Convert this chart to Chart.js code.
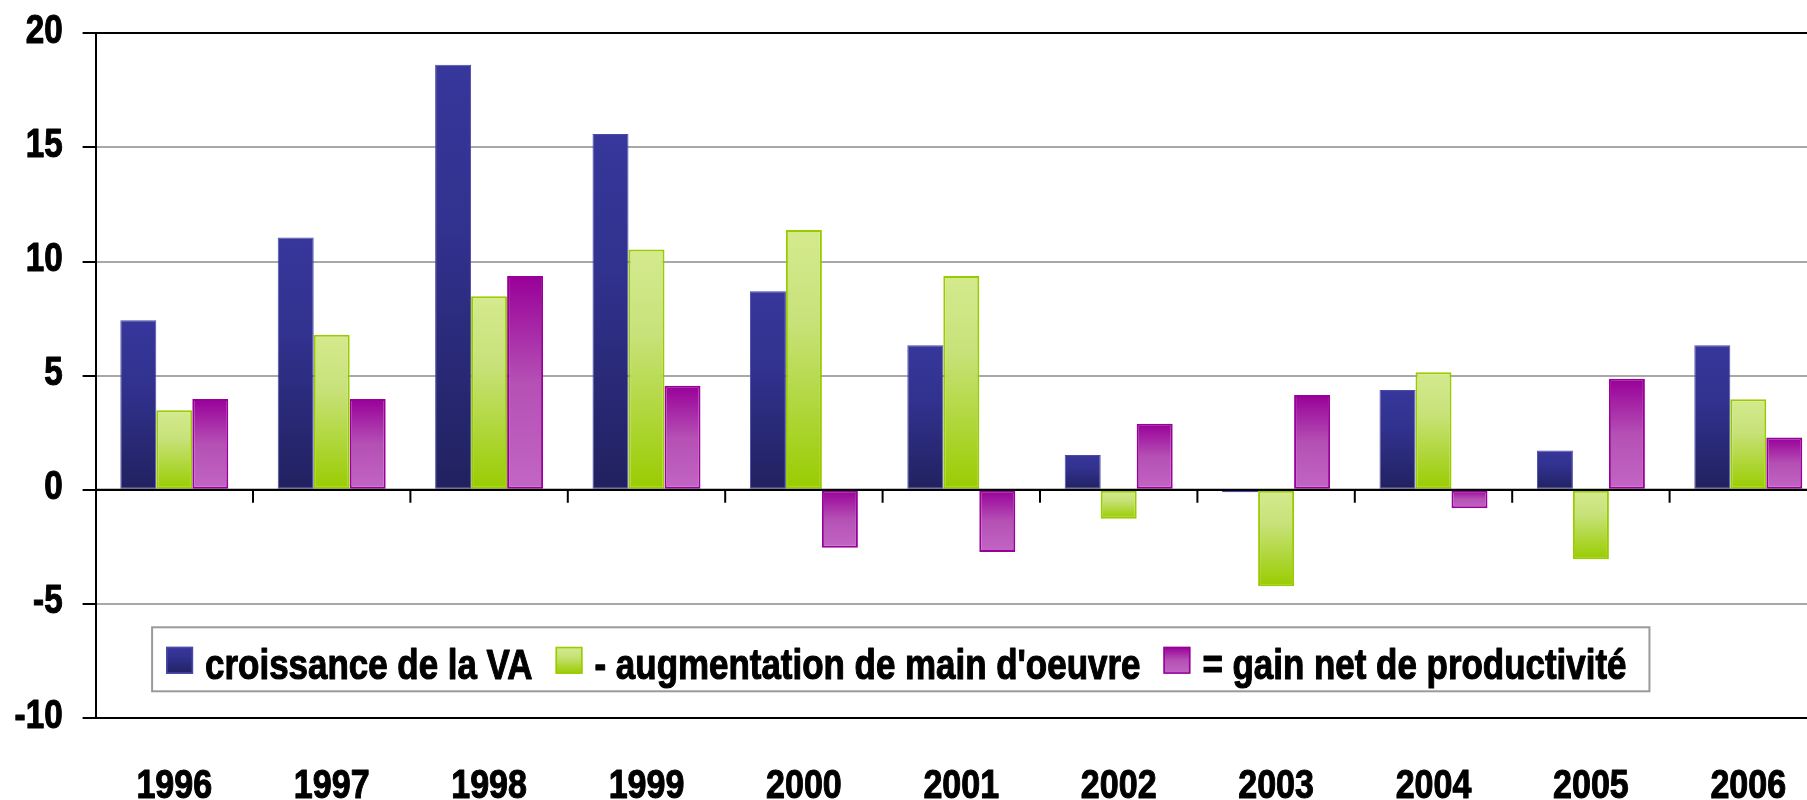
<!DOCTYPE html>
<html>
<head>
<meta charset="utf-8">
<script src="https://cdn.jsdelivr.net/npm/chart.js@4.4.1/dist/chart.umd.min.js"></script>
<style>
html,body{margin:0;padding:0;background:#fff;overflow:hidden}
#wrap{width:1807px;height:800px;overflow:hidden;position:relative;background:#fff}
canvas{display:block}
</style>
</head>
<body>
<div id="wrap"><canvas id="c" width="1828" height="800" style="width:1828px;height:800px"></canvas></div>
<script>
// ---- data ----
const years = ['1996','1997','1998','1999','2000','2001','2002','2003','2004','2005','2006'];
const seriesNames = ['croissance de la VA', "- augmentation de main d'oeuvre", '= gain net de productivité'];
const croissanceVA   = [7.43, 11.05, 18.62, 15.59, 8.70, 6.33, 1.52, -0.11, 4.37, 1.72, 6.33];
const augmentationMO = [3.48, 6.79, 8.48, 10.53, 11.38, 9.37, -1.27, -4.23, 5.15, -3.05, 3.96];
const gainNet        = [3.98, 3.98, 9.36, 4.56, -2.54, -2.73, 2.89, 4.15, -0.81, 4.86, 2.29];
const yMin = -10, yMax = 20, yStep = 5;

// ---- styles ----
const FAMILY = "'Liberation Sans', Arial, sans-serif";
const NARROW = 0.82; // Arial Narrow is Arial compressed horizontally
const blueStops  = [[0,'#37379c'],[0.4,'#31318e'],[1,'#212160']];
const greenStops = [[0,'#d4ea8e'],[0.35,'#c8e27a'],[1,'#99cc00']];
const pinkStops  = [[0,'#980098'],[0.5,'#b550b5'],[1,'#c266c4']];
const borders = ['#4a4aa8', '#99cc00', '#990099'];
const borderWidths = [1, 2, 2];
const allStops = [blueStops, greenStops, pinkStops];
const seriesData = [croissanceVA, augmentationMO, gainNet];

// narrow, heavy text: compress every text draw horizontally around its anchor
const canvas = document.getElementById('c');
const c2d = canvas.getContext('2d');
const origFillText = c2d.fillText.bind(c2d);
const origStrokeText = c2d.strokeText.bind(c2d);
c2d.fillText = function(text, x, y, maxWidth){
  this.save();
  this.translate(x, y);
  this.scale(NARROW, 1);
  const mw = maxWidth !== undefined ? maxWidth / NARROW : undefined;
  if (mw !== undefined) origFillText(text, 0, 0, mw); else origFillText(text, 0, 0);
  this.strokeStyle = this.fillStyle;
  this.lineWidth = 1.1;
  this.lineJoin = 'round';
  if (mw !== undefined) origStrokeText(text, 0, 0, mw); else origStrokeText(text, 0, 0);
  this.restore();
};

function makeGrad(c, y0, y1, stops){
  const g = c.createLinearGradient(0, y0, 0, y1 === y0 ? y0 + 1 : y1);
  stops.forEach(([o, col]) => g.addColorStop(o, col));
  return g;
}
function barGradient(stops){
  return (ctx) => {
    const chart = ctx.chart;
    if (!chart.chartArea || ctx.type !== 'data') return stops[0][1];
    const y = chart.scales.y;
    const v = ctx.raw;
    const top = y.getPixelForValue(Math.max(v, 0));
    const bot = y.getPixelForValue(Math.min(v, 0));
    return makeGrad(chart.ctx, top, bot, stops);
  };
}

const zeroTicks = {
  id: 'zeroTicks',
  afterDatasetsDraw(chart){
    const {ctx, chartArea, scales:{x, y}} = chart;
    const y0 = y.getPixelForValue(0);
    ctx.save();
    ctx.strokeStyle = '#000';
    ctx.lineWidth = 2;
    ctx.beginPath();
    ctx.moveTo(chartArea.left, y0);
    ctx.lineTo(chartArea.right, y0);
    ctx.stroke();
    const half = (x.getPixelForValue(1) - x.getPixelForValue(0)) / 2;
    ctx.beginPath();
    for (let i = 0; i < years.length; i++){
      const px = x.getPixelForValue(i) + half;
      ctx.moveTo(px, y0);
      ctx.lineTo(px, y0 + 13);
    }
    ctx.stroke();
    ctx.restore();
  }
};

const insideLegend = {
  id: 'insideLegend',
  afterDraw(chart){
    const {ctx, chartArea} = chart;
    ctx.save();
    ctx.font = 'bold 42.6px ' + FAMILY;
    const left = chartArea.left + 56.5;
    const top = chartArea.bottom - 90.6;
    const h = 64;
    const widths = seriesNames.map(s => ctx.measureText(s).width * NARROW);
    let total = 14;
    widths.forEach((w) => { total += 27 + 12 + w + 23; });
    ctx.fillStyle = '#fff';
    ctx.fillRect(left, top, total, h);
    ctx.strokeStyle = '#9a9a9a';
    ctx.lineWidth = 2;
    ctx.strokeRect(left, top, total, h);
    let xx = left + 14;
    seriesNames.forEach((s, i) => {
      const my = top + 19.5;
      ctx.fillStyle = makeGrad(ctx, my, my + 27, allStops[i]);
      ctx.fillRect(xx, my, 27, 27);
      ctx.strokeStyle = borders[i];
      ctx.lineWidth = 1.5;
      ctx.strokeRect(xx + 0.75, my + 0.75, 25.5, 25.5);
      ctx.fillStyle = '#000';
      ctx.textBaseline = 'alphabetic';
      ctx.textAlign = 'left';
      ctx.fillText(s, xx + 27 + 12, top + 52);
      xx += 27 + 12 + widths[i] + 23;
    });
    ctx.restore();
  }
};

new Chart(canvas, {
  type: 'bar',
  data: {
    labels: years,
    datasets: seriesNames.map((name, i) => ({
      label: name,
      data: seriesData[i],
      backgroundColor: barGradient(allStops[i]),
      borderColor: borders[i],
      borderWidth: borderWidths[i],
      borderSkipped: false,
      categoryPercentage: 0.686,
      barPercentage: 1.0
    }))
  },
  options: {
    responsive: false,
    devicePixelRatio: 1,
    animation: false,
    layout: { padding: { top: 33.3, right: 1, bottom: 0, left: 0 } },
    plugins: { legend: { display: false }, tooltip: { enabled: false } },
    scales: {
      x: {
        grid: { display: true, drawOnChartArea: false, drawTicks: false },
        border: { display: true, color: '#000', width: 2 },
        ticks: {
          color: '#000',
          font: { family: FAMILY, size: 41.5, weight: 'bold', lineHeight: 1.2 },
          padding: 44,
          maxRotation: 0,
          autoSkip: false
        },
        afterFit(scale){ scale.height = 82.1; scale.paddingLeft = 0; scale.paddingRight = 0; }
      },
      y: {
        min: yMin, max: yMax,
        grid: {
          color: (c) => (c.tick && (c.tick.value === 0 || c.tick.value === yMax || c.tick.value === yMin)) ? '#000' : '#a8a8a8',
          lineWidth: 2,
          tickColor: '#000',
          tickWidth: 2,
          tickLength: 13,
          drawTicks: true
        },
        border: { display: true, color: '#000', width: 2 },
        ticks: {
          stepSize: yStep,
          color: '#000',
          font: { family: FAMILY, size: 40.5, weight: 'bold' },
          padding: 20,
          labelOffset: -1.5
        },
        afterFit(scale){ scale.width = 95.6; scale.paddingTop = 0; scale.paddingBottom = 0; }
      }
    }
  },
  plugins: [zeroTicks, insideLegend]
});
</script>
</body>
</html>
